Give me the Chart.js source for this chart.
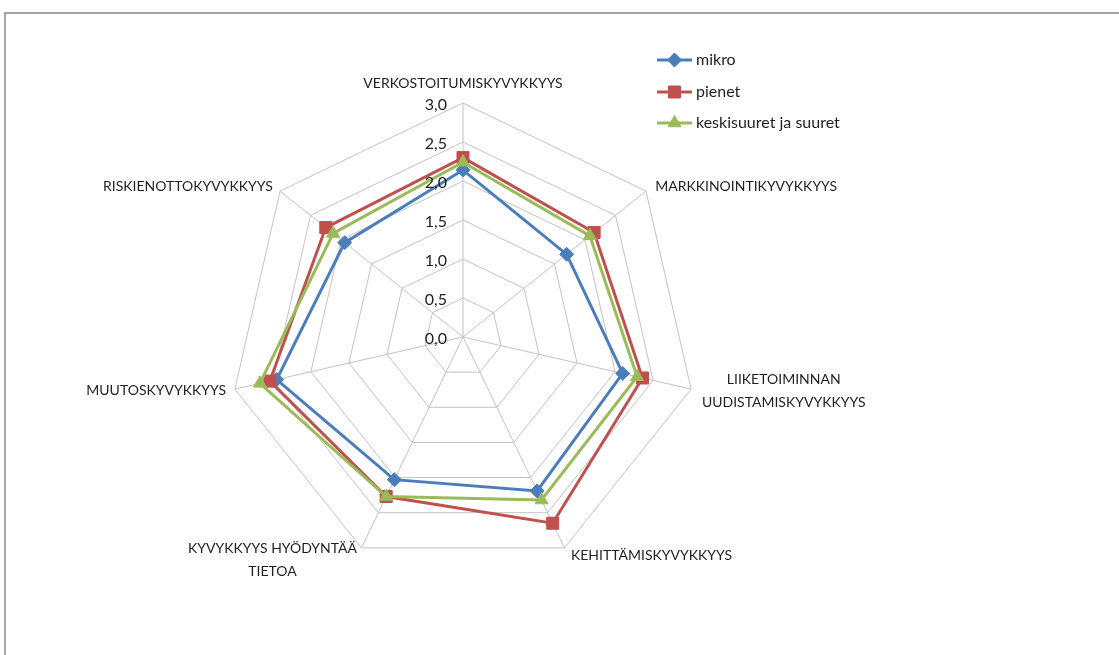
<!DOCTYPE html>
<html lang="fi">
<head>
<meta charset="utf-8">
<title>Kyvykkyydet yrityskoon mukaan</title>
<script src="https://cdn.jsdelivr.net/npm/chart.js@4.4.1/dist/chart.umd.min.js"></script>
<style>
  html, body { margin: 0; padding: 0; background: #ffffff; }
  #wrap { position: relative; width: 1119px; height: 655px; overflow: hidden; }
  canvas { display: block; }
</style>
</head>
<body>
<div id="wrap"><canvas id="chart" width="1119" height="655"></canvas></div>
<script>
// Axis categories (multi-line labels as arrays)
const categories = [
  'VERKOSTOITUMISKYVYKKYYS',
  'MARKKINOINTIKYVYKKYYS',
  ['LIIKETOIMINNAN', 'UUDISTAMISKYVYKKYYS'],
  'KEHITTÄMISKYVYKKYYS',
  ['KYVYKKYYS HYÖDYNTÄÄ', 'TIETOA'],
  'MUUTOSKYVYKKYYS',
  'RISKIENOTTOKYVYKKYYS'
];

// Series values per company size
const mikro = [2.14, 1.70, 2.10, 2.19, 2.03, 2.45, 1.94];
const pienet = [2.30, 2.15, 2.36, 2.65, 2.27, 2.54, 2.25];
const keskisuuret = [2.24, 2.08, 2.29, 2.32, 2.27, 2.67, 2.13];

const seriesNames = ['mikro', 'pienet', 'keskisuuret ja suuret'];

// Radial scale ticks
const tickMin = 0;
const tickMax = 3;
const tickStep = 0.5;

const FONT = 'Lato, "Open Sans", "DejaVu Sans", sans-serif';
const TEXT_COLOR = '#1f1f1f';
const GRID_COLOR = '#c3c3c3';

const BLUE = '#4a7ebb';
const RED = '#c0504d';
const GREEN = '#9bbb59';

function fmt(v) {
  return v.toFixed(1).replace('.', ',');
}

// Frame around the chart object
const framePlugin = {
  id: 'frame',
  beforeDraw(chart) {
    const ctx = chart.ctx;
    ctx.save();
    ctx.strokeStyle = '#a6a6a6';
    ctx.lineWidth = 2;
    ctx.beginPath();
    ctx.moveTo(5, chart.height + 2);
    ctx.lineTo(5, 13);
    ctx.lineTo(chart.width + 2, 13);
    ctx.stroke();
    ctx.restore();
  }
};

// Tick values drawn to the left of the vertical axis
const tickLabelPlugin = {
  id: 'tickLabels',
  afterDatasetsDraw(chart) {
    const scale = chart.scales.r;
    const ctx = chart.ctx;
    ctx.save();
    ctx.font = '16px ' + FONT;
    ctx.fillStyle = TEXT_COLOR;
    ctx.textAlign = 'right';
    ctx.textBaseline = 'middle';
    scale.ticks.forEach(t => {
      const d = scale.getDistanceFromCenterForValue(t.value);
      ctx.fillText(fmt(t.value), scale.xCenter - 16, scale.yCenter - d + 2);
    });
    ctx.restore();
  }
};

// Category labels placed just outside each axis end
const pointLabelPlugin = {
  id: 'axisLabels',
  afterDraw(chart) {
    const scale = chart.scales.r;
    const ctx = chart.ctx;
    const lineH = 23;
    ctx.save();
    ctx.font = '14px ' + FONT;
    ctx.fillStyle = TEXT_COLOR;
    ctx.textAlign = 'center';
    ctx.textBaseline = 'middle';
    chart.data.labels.forEach((lab, i) => {
      const lines = Array.isArray(lab) ? lab : [lab];
      const pos = scale.getPointPosition(i, scale.drawingArea + 8);
      const a = scale.getIndexAngle(i);
      const s = Math.sin(a);
      const c = Math.cos(a);
      const blockW = Math.max(...lines.map(l => ctx.measureText(l).width));
      const blockH = lines.length * lineH;
      let cx, cy;
      if (Math.abs(s) < 0.1) {
        cx = pos.x;
        cy = c > 0 ? pos.y - blockH / 2 : pos.y + blockH / 2;
      } else if (s > 0) {
        cx = pos.x + 3 + blockW / 2;
        cy = pos.y;
      } else {
        cx = pos.x - 1 - blockW / 2;
        cy = pos.y + (lines.length > 1 && c < -0.5 ? 5 : 0);
      }
      lines.forEach((l, k) => {
        ctx.fillText(l, cx, cy - blockH / 2 + lineH / 2 + k * lineH);
      });
    });
    ctx.restore();
  }
};

// Legend with line + marker samples taken from each dataset's style
const legendPlugin = {
  id: 'seriesLegend',
  afterDraw(chart) {
    const ctx = chart.ctx;
    const x0 = 657, x1 = 692, textX = 696;
    const rows = [60, 92, 123];
    chart.data.datasets.forEach((ds, i) => {
      const y = rows[i];
      ctx.save();
      ctx.strokeStyle = ds.borderColor;
      ctx.lineWidth = ds.borderWidth;
      ctx.beginPath();
      ctx.moveTo(x0, y);
      ctx.lineTo(x1, y);
      ctx.stroke();
      ctx.fillStyle = ds.pointBackgroundColor;
      ctx.strokeStyle = ds.pointBorderColor;
      ctx.lineWidth = ds.pointBorderWidth;
      Chart.helpers.drawPoint(ctx, {
        pointStyle: ds.pointStyle,
        radius: ds.pointRadius,
        rotation: 0,
        borderWidth: ds.pointBorderWidth
      }, (x0 + x1) / 2, y);
      ctx.font = '16px ' + FONT;
      ctx.textAlign = 'left';
      ctx.textBaseline = 'middle';
      ctx.fillStyle = TEXT_COLOR;
      ctx.fillText(seriesNames[i], textX, y);
      ctx.restore();
    });
  }
};

function series(name, values, color, style, radius, order) {
  return {
    label: name,
    data: values,
    borderColor: color,
    backgroundColor: color,
    pointBackgroundColor: color,
    pointBorderColor: color,
    borderWidth: 3,
    pointStyle: style,
    pointRadius: radius,
    pointHoverRadius: radius,
    pointBorderWidth: 1,
    fill: false,
    tension: 0,
    order: order
  };
}

new Chart(document.getElementById('chart'), {
  type: 'radar',
  data: {
    labels: categories,
    datasets: [
      series(seriesNames[0], mikro, BLUE, 'rectRot', 7, 3),
      series(seriesNames[1], pienet, RED, 'rect', 8.5, 2),
      series(seriesNames[2], keskisuuret, GREEN, 'triangle', 7.5, 1)
    ]
  },
  options: {
    responsive: false,
    animation: false,
    events: [],
    layout: {
      padding: { top: 103, bottom: 84, left: 203, right: 396 }
    },
    plugins: {
      legend: { display: false },
      tooltip: { enabled: false },
      title: { display: false }
    },
    scales: {
      r: {
        min: tickMin,
        max: tickMax,
        beginAtZero: true,
        ticks: { display: false, stepSize: tickStep },
        pointLabels: { display: false },
        grid: { color: GRID_COLOR, lineWidth: 1 },
        angleLines: { color: GRID_COLOR, lineWidth: 1 }
      }
    }
  },
  plugins: [framePlugin, tickLabelPlugin, pointLabelPlugin, legendPlugin]
});
</script>
</body>
</html>
